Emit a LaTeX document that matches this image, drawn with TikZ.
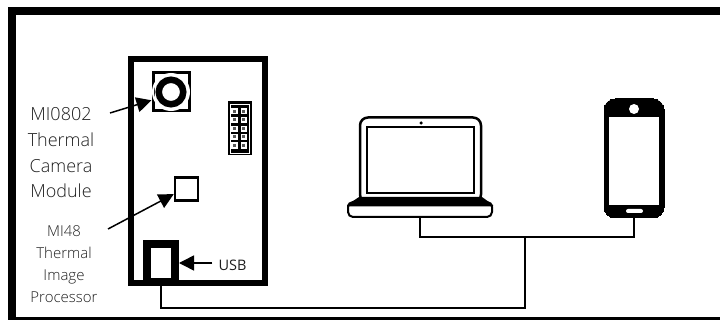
\documentclass[tikz,border=0pt]{standalone}
\usepackage{fontspec}
\setmainfont{Open Sans Light}
\newfontfamily\usbfont{Open Sans}
\definecolor{inkblack}{RGB}{0, 0, 0}
\definecolor{labelgray}{RGB}{30, 30, 30}
\usetikzlibrary{arrows.meta, positioning, calc}
\tikzset{
  part/.style={draw=inkblack, fill=white, minimum width=#1, inner sep=0pt},
  callout/.style={-{Triangle[length=15pt, width=15pt]}, line width=1.5pt, draw=inkblack},
  wire/.style={line width=1.1pt, draw=inkblack},
  biglabel/.style={text=labelgray, font=\fontsize{18}{25.7}\selectfont, align=center},
  smalllabel/.style={text=labelgray, font=\fontsize{15}{22}\selectfont, align=center}
}

\begin{document}
\begin{tikzpicture}[x=1pt, y=-1pt]
  \useasboundingbox (0,0) rectangle (720,320);
  % outer frame
  \draw[line width=8pt, inkblack] (720,11) -- (12,11) -- (12,320);
  \draw[line width=3pt, inkblack] (8,318.5) -- (720,318.5);

  % board
  \node[part=134pt, minimum height=224pt, line width=6pt] (board) at (198,171) {};
  \node[part=36pt, minimum height=38pt, line width=3pt] (camera) at (171,92) {};
  \draw[white, line width=2pt] (camera.center) circle (18pt);
  \draw[inkblack, line width=6.5pt] (camera.center) circle (12.25pt);
  \node[part=23pt, minimum height=53pt, fill=inkblack, line width=0pt] (header) at (239.5,128.5) {};
  \draw[white, line width=0.8pt] (230,104) rectangle (249,153);
  \foreach \px in {234.5, 243.7}
    \foreach \py in {111.3, 120, 128.8, 137, 145.5}{
      \fill[white] (\px-3.2,\py-3.2) rectangle (\px+3.2,\py+3.2);
      \fill[inkblack!65] (\px-1.5,\py-1.5) rectangle (\px+1.5,\py+1.5);
    }
  \node[part=23pt, minimum height=23pt, line width=2.5pt] (imager) at (186.5,189) {};
  \node[part=28pt, minimum height=38pt, line width=8pt] (usbport) at (161,263) {};

  % laptop
  \node[part=121pt, minimum height=85pt, line width=2.5pt, rounded corners=8pt] (lid) at (420.5,160) {};
  \node[part=107pt, minimum height=66pt, line width=2pt] (screen) at (420.5,160) {};
  \node[circle, fill=inkblack, minimum size=3.5pt, inner sep=0pt] (webcam) at (421,123) {};
  \node[part=144pt, minimum height=15pt, line width=2pt, rounded corners=5pt] (base) at (420,209.5) {};
  \fill[inkblack] (359,197) -- (482,197) -- (493,205) -- (493,206.5) -- (347,206.5) -- (347,205) -- cycle;

  % phone
  \node[part=60pt, minimum height=119pt, fill=inkblack, line width=0pt, rounded corners=11pt] (phone) at (634,158.5) {};
  \node[part=50pt, minimum height=88pt, line width=0pt, draw=none] (display) at (634,161) {};
  \node[circle, fill=white, minimum size=10pt, inner sep=0pt] (speaker) at (634,109) {};
  \node[part=17pt, minimum height=4pt, draw=none, rounded corners=2pt] (homekey) at (634.5,211) {};

  % wires
  \coordinate (tee) at (525,237);
  \coordinate (turn) at (525,308);
  \draw[wire] (base.south) |- (tee) -| (phone.south);
  \draw[wire] (usbport.south) |- (turn) -- (tee);

  % labels
  \node[biglabel] (camlabel) at (61,153) {MI0802\\Thermal\\Camera\\Module};
  \node[smalllabel] (chiplabel) at (64,264) {MI48\\Thermal\\Image\\Processor};
  \node[font=\usbfont\fontsize{14.5}{16}\selectfont, text=labelgray, inner sep=6pt] (usblabel) at (232.5,265) {USB};

  \coordinate (camtail) at (110,113);
  \coordinate (chiptail) at (108,229);
  \draw[callout] (camtail) -- (camera.203);
  \draw[callout] (chiptail) -- (imager.202);
  \draw[callout] (usblabel.west |- usbport.east) -- (usbport.east);
\end{tikzpicture}
\end{document}
